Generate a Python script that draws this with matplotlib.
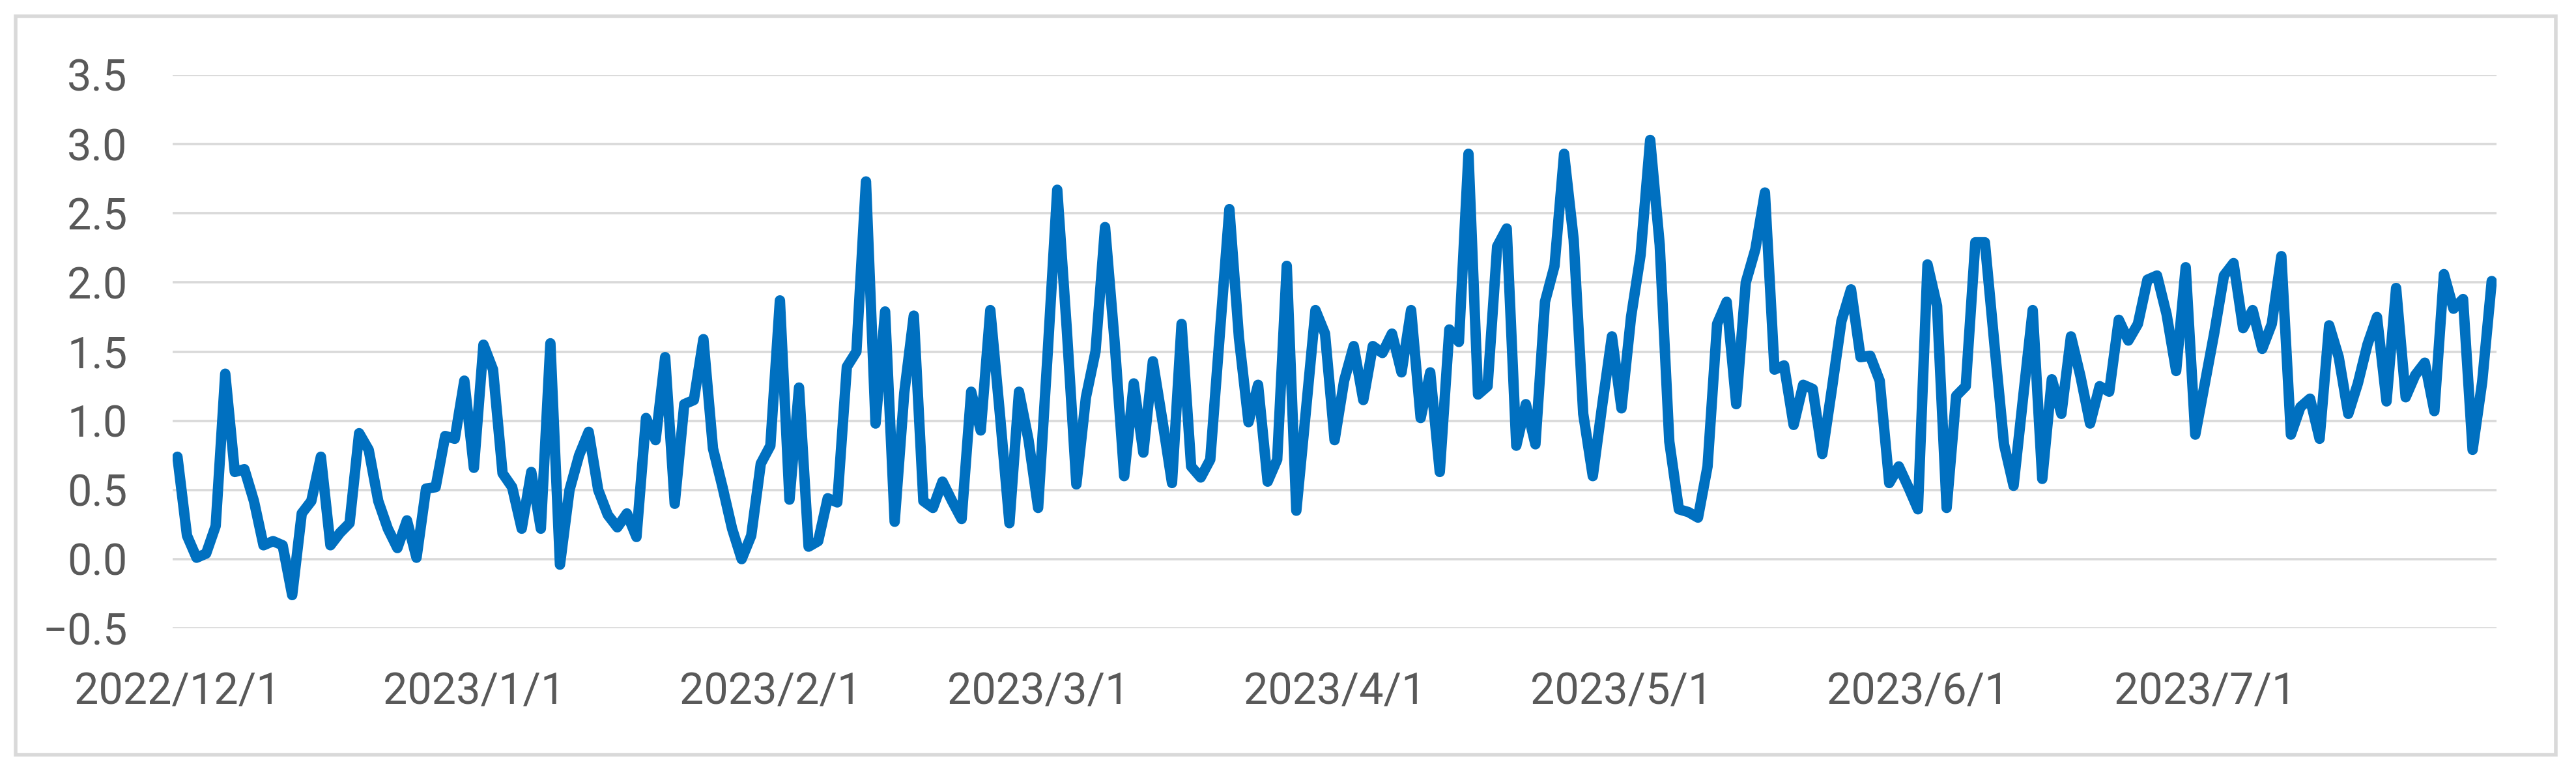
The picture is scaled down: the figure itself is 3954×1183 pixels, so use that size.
import numpy as np
import pandas as pd
import matplotlib
matplotlib.use("Agg")
import matplotlib.pyplot as plt
from matplotlib.patches import Rectangle

# ---------------- data ----------------
start_date = "2022-12-01"
values = [
    0.74, 0.17, 0.01, 0.04, 0.24, 1.34, 0.63, 0.65, 0.42, 0.10,
    0.13, 0.10, -0.26, 0.33, 0.42, 0.74, 0.10, 0.19, 0.26, 0.91,
    0.79, 0.42, 0.22, 0.08, 0.28, 0.01, 0.51, 0.52, 0.89, 0.87,
    1.29, 0.66, 1.55, 1.37, 0.62, 0.52, 0.22, 0.63, 0.22, 1.56,
    -0.04, 0.50, 0.75, 0.92, 0.50, 0.32, 0.23, 0.33, 0.16, 1.02,
    0.86, 1.46, 0.40, 1.12, 1.15, 1.59, 0.80, 0.52, 0.22, 0.00,
    0.17, 0.69, 0.82, 1.87, 0.43, 1.24, 0.09, 0.13, 0.44, 0.41,
    1.39, 1.50, 2.73, 0.98, 1.79, 0.27, 1.20, 1.76, 0.42, 0.37,
    0.56, 0.42, 0.29, 1.21, 0.93, 1.80, 1.05, 0.26, 1.21, 0.86,
    0.37, 1.49, 2.67, 1.66, 0.54, 1.17, 1.50, 2.40, 1.57, 0.60,
    1.27, 0.77, 1.43, 1.00, 0.55, 1.70, 0.67, 0.59, 0.72, 1.63,
    2.53, 1.60, 0.99, 1.26, 0.56, 0.72, 2.12, 0.35, 1.07, 1.80,
    1.63, 0.86, 1.29, 1.54, 1.15, 1.54, 1.49, 1.63, 1.35, 1.80,
    1.02, 1.35, 0.63, 1.66, 1.57, 2.93, 1.19, 1.25, 2.26, 2.39,
    0.82, 1.12, 0.83, 1.86, 2.12, 2.93, 2.31, 1.05, 0.60, 1.12,
    1.61, 1.09, 1.75, 2.20, 3.03, 2.27, 0.85, 0.36, 0.34, 0.30,
    0.67, 1.70, 1.86, 1.12, 2.00, 2.24, 2.65, 1.37, 1.40, 0.97,
    1.26, 1.23, 0.76, 1.23, 1.72, 1.95, 1.46, 1.47, 1.29, 0.55,
    0.67, 0.52, 0.36, 2.13, 1.83, 0.37, 1.18, 1.25, 2.29, 2.29,
    1.55, 0.83, 0.53, 1.17, 1.80, 0.58, 1.30, 1.05, 1.61, 1.32,
    0.98, 1.25, 1.21, 1.73, 1.58, 1.70, 2.02, 2.05, 1.77, 1.36,
    2.11, 0.90, 1.27, 1.64, 2.05, 2.14, 1.67, 1.80, 1.52, 1.70,
    2.19, 0.90, 1.10, 1.16, 0.87, 1.69, 1.46, 1.05, 1.27, 1.55,
    1.75, 1.14, 1.96, 1.17, 1.33, 1.42, 1.07, 2.06, 1.81, 1.88,
    0.79, 1.28, 2.01,
]
tick_dates = ["2022-12-01", "2023-01-01", "2023-02-01", "2023-03-01",
              "2023-04-01", "2023-05-01", "2023-06-01", "2023-07-01"]
tick_labels = ["2022/12/1", "2023/1/1", "2023/2/1", "2023/3/1",
               "2023/4/1", "2023/5/1", "2023/6/1", "2023/7/1"]
y_ticks = [-0.5, 0.0, 0.5, 1.0, 1.5, 2.0, 2.5, 3.0, 3.5]

# ---------------- figure ----------------
W, H, DPI = 3954, 1183, 100
fig = plt.figure(figsize=(W / DPI, H / DPI), dpi=DPI)
fig.patch.set_facecolor("white")

fam = ["Roboto", "DejaVu Sans"]
label_color = "#595959"
grid_color = "#D9D9D9"

left, right = 265 / W, 3832 / W
top, bottom = 1 - 115 / H, 1 - 964 / H
ax = fig.add_axes([left, bottom, right - left, top - bottom])

dates = pd.date_range(start_date, periods=len(values), freq="D")
ax.plot(dates, values, color="#0070C0", lw=11.5,
        solid_joinstyle="round", solid_capstyle="round", zorder=3)

ax.set_ylim(-0.5, 3.5)
half = pd.Timedelta(hours=12)
ax.set_xlim(dates[0] - half, dates[-1] + half)

ax.set_yticks(y_ticks)
ax.set_yticklabels([f"{v:.1f}".replace("-", "\u2212") for v in y_ticks],
                   fontsize=48, color=label_color, family=fam)
ax.set_xticks(pd.to_datetime(tick_dates))
ax.set_xticklabels(tick_labels, fontsize=48, color=label_color, family=fam)

ax.tick_params(axis="both", length=0)
ax.tick_params(axis="y", pad=50)
ax.tick_params(axis="x", pad=48)

ax.grid(axis="y", color=grid_color, lw=2.6)
ax.grid(axis="x", visible=False)
ax.set_axisbelow(True)
for s in ax.spines.values():
    s.set_visible(False)

# outer chart frame
x0, x1 = 24 / W, 3923 / W
y0, y1 = 1 - 1158 / H, 1 - 25 / H
fig.patches.append(Rectangle((x0, y0), x1 - x0, y1 - y0, transform=fig.transFigure,
                             fill=False, ec=grid_color, lw=4, zorder=0))

fig.savefig("out.png", dpi=DPI, facecolor="white")
